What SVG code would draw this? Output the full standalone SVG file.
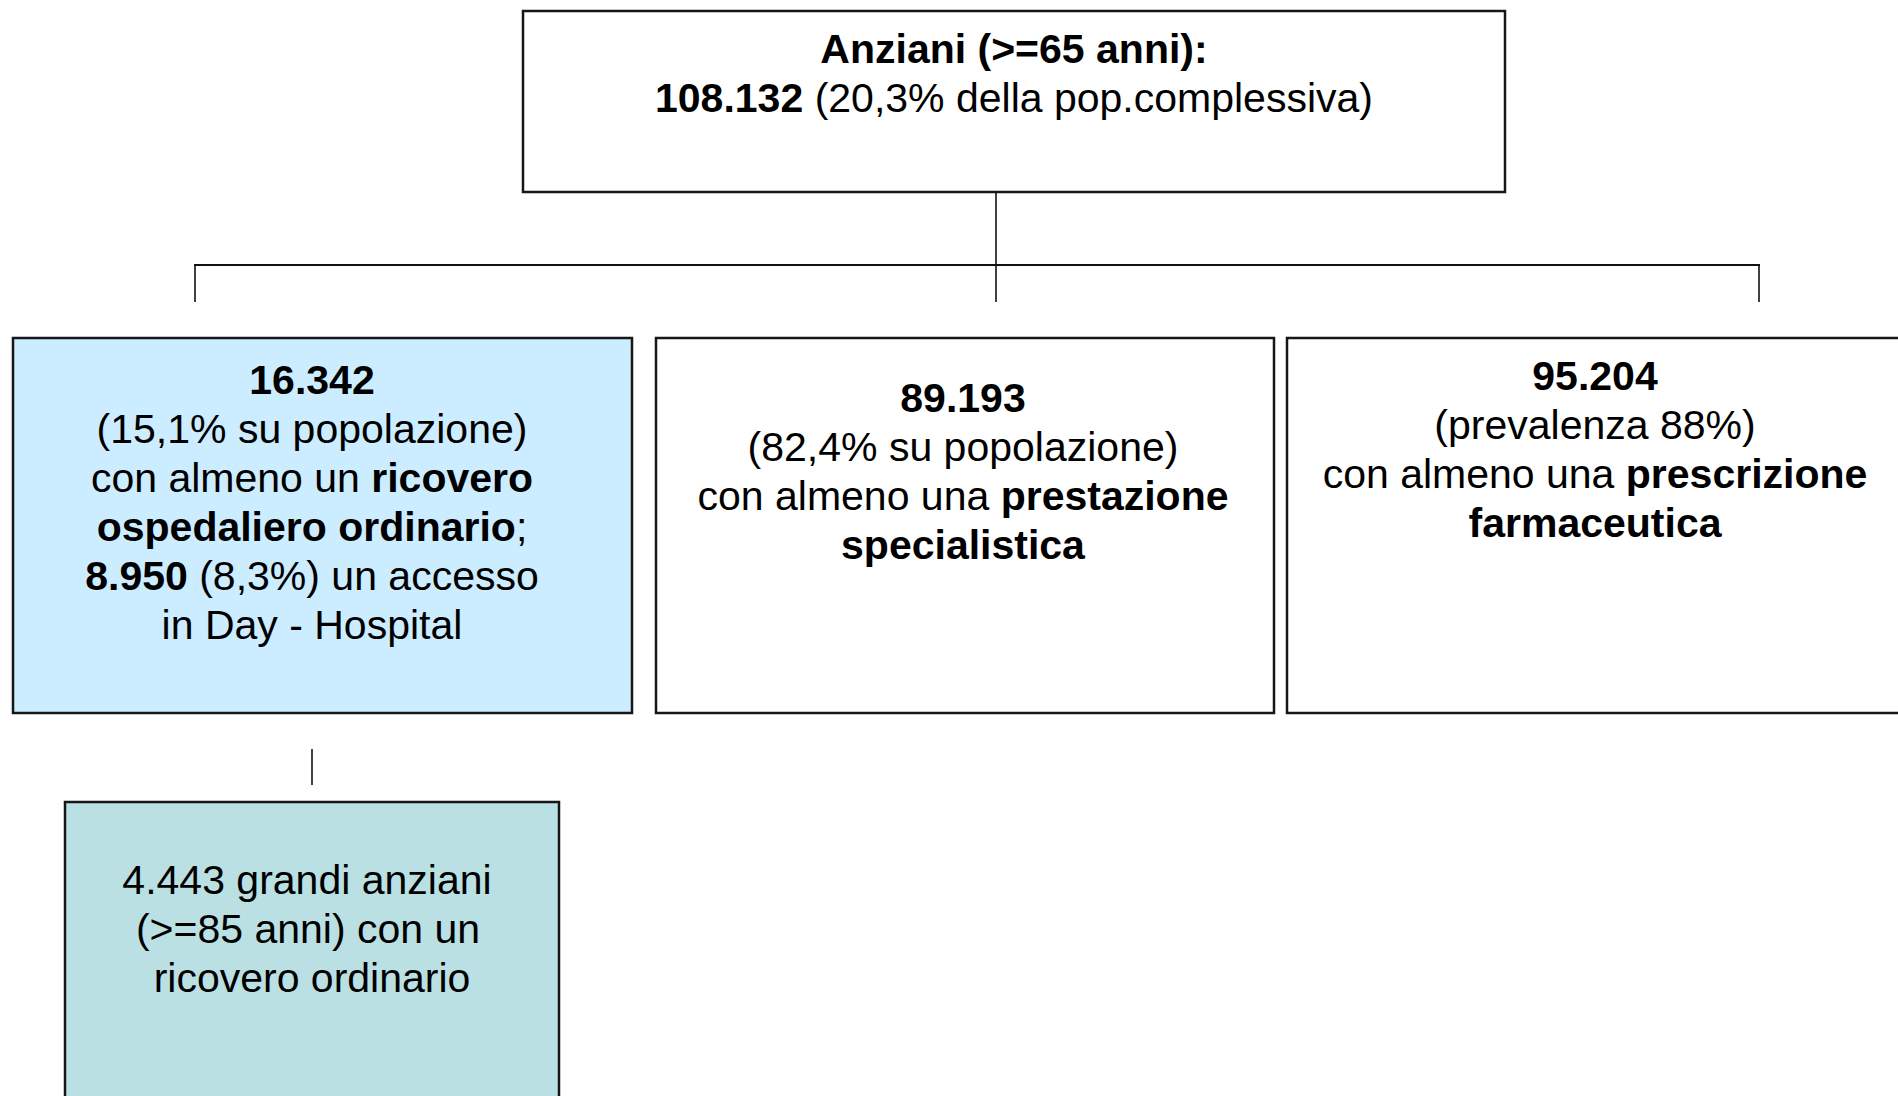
<svg xmlns="http://www.w3.org/2000/svg" width="1898" height="1096" viewBox="0 0 1898 1096">
<style>
.box{stroke:#161616;stroke-width:2.5}
.t{font-family:"Liberation Sans",Arial,sans-serif;font-size:41px;fill:#000;text-anchor:middle}
.b{font-weight:bold}
.c{stroke:#111;fill:none}
</style>
<rect width="1898" height="1096" fill="#fff"/>
<g id="connectors">
<line class="c" x1="996" y1="192" x2="996" y2="302" stroke-width="1.6"/>
<line class="c" x1="194" y1="265" x2="1760" y2="265" stroke-width="2"/>
<line class="c" x1="195" y1="265" x2="195" y2="302" stroke-width="1.6"/>
<line class="c" x1="1759" y1="265" x2="1759" y2="302" stroke-width="1.6"/>
<line class="c" x1="312" y1="749" x2="312" y2="785" stroke-width="1.6"/>
</g>
<g id="root">
<rect class="box" x="523" y="11" width="982" height="181" fill="#fff"/>
<text class="t" x="1014" y="63"><tspan class="b">Anziani (&gt;=65 anni):</tspan></text>
<text class="t" x="1014" y="112"><tspan class="b">108.132</tspan> (20,3% della pop.complessiva)</text>
</g>
<g id="ricoveri">
<rect class="box" x="13" y="338" width="619" height="375" fill="#CCECFF"/>
<text class="t" x="312" y="394"><tspan class="b">16.342</tspan></text>
<text class="t" x="312" y="443">(15,1% su popolazione)</text>
<text class="t" x="312" y="492">con almeno un <tspan class="b">ricovero</tspan></text>
<text class="t" x="312" y="541"><tspan class="b">ospedaliero ordinario</tspan>;</text>
<text class="t" x="312" y="590"><tspan class="b">8.950</tspan> (8,3%) un accesso</text>
<text class="t" x="312" y="639">in Day - Hospital</text>
</g>
<g id="specialistica">
<rect class="box" x="656" y="338" width="618" height="375" fill="#fff"/>
<text class="t" x="963" y="412"><tspan class="b">89.193</tspan></text>
<text class="t" x="963" y="461">(82,4% su popolazione)</text>
<text class="t" x="963" y="510">con almeno una <tspan class="b">prestazione</tspan></text>
<text class="t" x="963" y="559"><tspan class="b">specialistica</tspan></text>
</g>
<g id="farmaceutica">
<rect class="box" x="1287" y="338" width="640" height="375" fill="#fff"/>
<text class="t" x="1595" y="390"><tspan class="b">95.204</tspan></text>
<text class="t" x="1595" y="439">(prevalenza 88%)</text>
<text class="t" x="1595" y="488">con almeno una <tspan class="b">prescrizione</tspan></text>
<text class="t" x="1595" y="537"><tspan class="b">farmaceutica</tspan></text>
</g>
<g id="grandi-anziani">
<rect class="box" x="65" y="802" width="494" height="320" fill="#BBE0E3"/>
<text class="t" x="307" y="894">4.443 grandi anziani</text>
<text class="t" x="308" y="943">(&gt;=85 anni) con un</text>
<text class="t" x="312" y="992">ricovero ordinario</text>
</g>
</svg>
